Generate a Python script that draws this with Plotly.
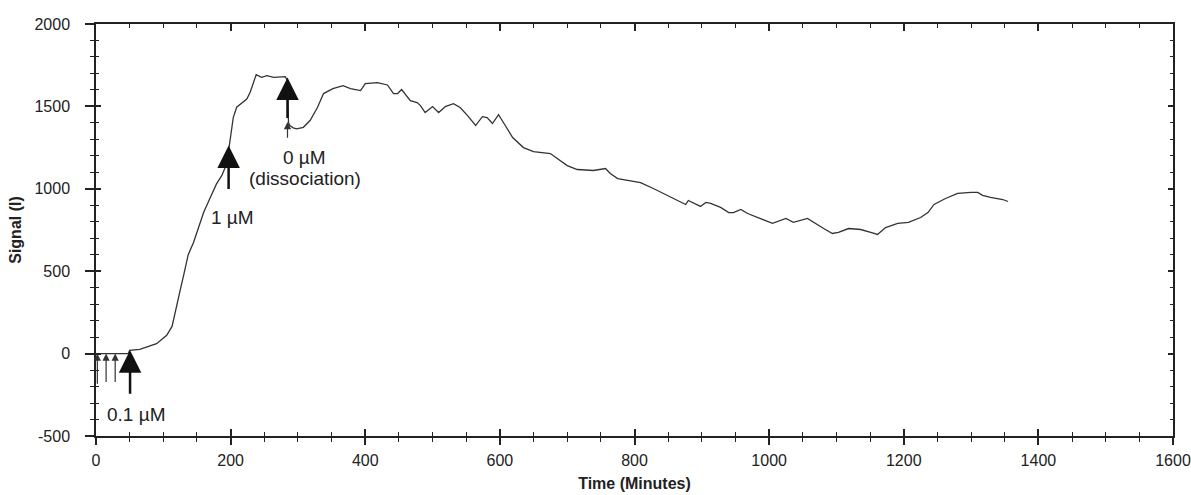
import plotly.graph_objects as go

# ---- data ----
time_min = [0, 10, 20, 30, 48, 50, 65, 90, 105, 113, 118, 125, 131, 137, 145, 152, 160, 170,
            179, 187, 192, 197, 199, 202, 204, 209, 217, 224, 229, 234, 238, 246, 254, 264,
            274, 281, 284, 286, 288, 293, 298, 308, 318, 329, 338, 352, 367, 378, 393, 400,
            418, 433, 442, 448, 454, 459, 467, 477, 482, 489, 500, 509, 519, 531, 541, 552,
            564, 574, 581, 589, 598, 608, 619, 635, 650, 675, 683, 700, 715, 739, 757, 764,
            775, 790, 809, 828, 849, 864, 876, 880, 888, 898, 906, 913, 928, 940, 947, 958,
            968, 983, 1005, 1025, 1036, 1057, 1066, 1081, 1094, 1103, 1118, 1136, 1151, 1161,
            1173, 1191, 1207, 1225, 1236, 1245, 1262, 1280, 1300, 1310, 1317, 1329, 1347, 1355]
signal = [0, 0, 0, 0, 0, 20, 26, 60, 111, 165, 262, 384, 490, 600, 676, 767, 858, 949,
          1030, 1081, 1131, 1232, 1293, 1373, 1434, 1495, 1525, 1545, 1586, 1646, 1693, 1676, 1687, 1676,
          1681, 1681, 1660, 1400, 1384, 1370, 1364, 1373, 1414, 1493, 1578, 1608, 1626, 1608, 1596, 1638,
          1644, 1630, 1578, 1578, 1602, 1578, 1535, 1523, 1505, 1463, 1499, 1463, 1499, 1517, 1493, 1444,
          1384, 1438, 1432, 1396, 1450, 1384, 1311, 1250, 1226, 1214, 1190, 1141, 1117, 1111, 1123, 1093,
          1062, 1050, 1038, 1002, 960, 929, 905, 929, 911, 893, 917, 911, 887, 856, 856, 875,
          850, 826, 790, 820, 796, 820, 796, 759, 729, 735, 759, 753, 735, 723,
          765, 790, 796, 826, 856, 905, 941, 972, 978, 978, 960, 948, 935, 923]

# tick labels
x_tickvals = [0, 200, 400, 600, 800, 1000, 1200, 1400, 1600]
x_ticktext = ["0", "200", "400", "600", "800", "1000", "1200", "1400", "1600"]
y_tickvals = [-500, 0, 500, 1000, 1500, 2000]
y_ticktext = ["-500", "0", "500", "1000", "1500", "2000"]

# arrows: (time, tail signal, tip signal)
big_arrows = [(50.6, -253, 20), (197, 990, 1262), (284.5, 1420, 1676)]
small_arrows = [(2, -192, 0), (15, -182, 0), (28.5, -182, 0), (284.5, 1300, 1405)]

# labels: (text, time, signal)
labels = [("0.1 µM", 60, -368), ("1 µM", 203, 828), ("0 µM", 309.5, 1190), ("(dissociation)", 311, 1060)]

x_range = [0, 1600]
y_range = [-500, 2000]

INK = "#222222"
FONT = "Arial, Liberation Sans, sans-serif"

fig = go.Figure()
fig.add_trace(go.Scatter(x=time_min, y=signal, mode="lines",
                         line=dict(color="#333333", width=1.3), showlegend=False,
                         hoverinfo="skip"))
# empty trace to activate overlay axes (inside ticks / mirrored frame)
fig.add_trace(go.Scatter(x=[], y=[], xaxis="x2", yaxis="y2", showlegend=False))

for t, tail, tip in big_arrows:
    fig.add_annotation(x=t, y=tip, ax=t, ay=tail, xref="x", yref="y", axref="x", ayref="y",
                       text="", showarrow=True, arrowhead=2, arrowsize=1.8, arrowwidth=2.5,
                       arrowcolor="#111111")
for t, tail, tip in small_arrows:
    fig.add_annotation(x=t, y=tip, ax=t, ay=tail, xref="x", yref="y", axref="x", ayref="y",
                       text="", showarrow=True, arrowhead=2, arrowsize=1.2, arrowwidth=1.2,
                       arrowcolor="#333333")
for txt, t, v in labels:
    fig.add_annotation(x=t, y=v, xref="x", yref="y", text=txt, showarrow=False,
                       font=dict(family=FONT, size=19, color=INK), xanchor="center", yanchor="middle")

common_x = dict(range=x_range, showgrid=False, zeroline=False, automargin=False,
                showline=True, linecolor=INK, linewidth=1.5, tickcolor=INK, tickwidth=1.5)
common_y = dict(range=y_range, showgrid=False, zeroline=False, automargin=False,
                showline=True, linecolor=INK, linewidth=1.5, tickcolor=INK, tickwidth=1.5)

fig.update_layout(
    width=1191, height=495,
    margin=dict(l=96, r=18, t=24, b=59),
    paper_bgcolor="white", plot_bgcolor="white",
    font=dict(family=FONT, color=INK),
    xaxis=dict(**common_x, ticks="outside", ticklen=7, tickmode="array",
               tickvals=x_tickvals, ticktext=x_ticktext,
               minor=dict(dtick=50, tick0=0, ticks="outside", ticklen=4, tickcolor=INK, tickwidth=1.2),
               tickfont=dict(size=16, family=FONT, color=INK), ticklabelstandoff=2,
               title=dict(text="<b>Time (Minutes)</b>", font=dict(size=16, family=FONT, color=INK),
                          standoff=10)),
    yaxis=dict(**common_y, ticks="outside", ticklen=9, tickmode="array",
               tickvals=y_tickvals, ticktext=y_ticktext,
               minor=dict(dtick=100, tick0=0, ticks="outside", ticklen=4, tickcolor=INK, tickwidth=1.2),
               tickfont=dict(size=16, family=FONT, color=INK), ticklabelstandoff=12,
               title=dict(text="<b>Signal (I)</b>", font=dict(size=16, family=FONT, color=INK),
                          standoff=9)),
    xaxis2=dict(**common_x, overlaying="x", anchor="y2", side="bottom", ticks="inside", ticklen=7,
                mirror="ticks", showticklabels=False, tickmode="array", tickvals=x_tickvals,
                minor=dict(dtick=50, tick0=0, ticks="inside", ticklen=4, tickcolor=INK, tickwidth=1.2)),
    yaxis2=dict(**common_y, overlaying="y", anchor="x2", side="left", ticks="inside", ticklen=5,
                mirror="ticks", showticklabels=False, tickmode="array", tickvals=y_tickvals,
                minor=dict(dtick=100, tick0=0, ticks="inside", ticklen=3, tickcolor=INK, tickwidth=1.2)),
)

fig.write_html("out.html", config={"displayModeBar": False},
               post_script="document.body.style.margin='0';")
